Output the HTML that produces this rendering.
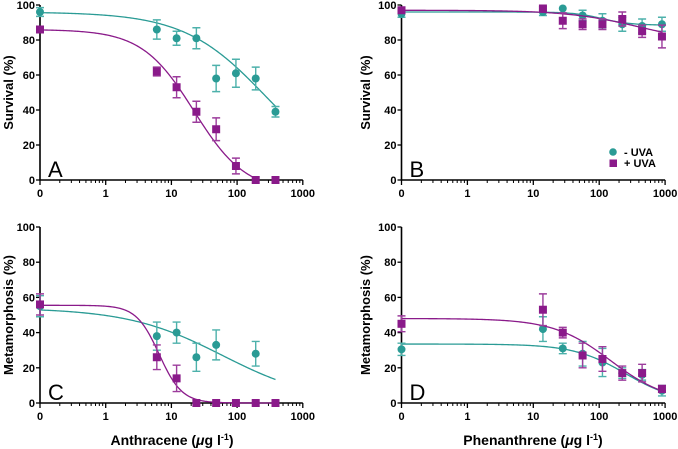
<!DOCTYPE html>
<html><head><meta charset="utf-8"><style>
html,body{margin:0;padding:0;background:#fff}
svg{display:block;font-family:"Liberation Sans",Arial,sans-serif}
</style></head><body>
<svg id="chart" width="678" height="449" viewBox="0 0 678 449"></svg>
<script>
// Doses (0 plotted at 0.1 position)
const antDoses = [0, 6, 12, 24, 48, 96, 192, 384];
const phenDoses = [0, 14, 28, 56, 112, 224, 448, 896];
// Panel A
const aTealX = [0, 6, 12, 24, 48, 96, 192, 384];
const aTealY = [96, 86, 81, 81, 58, 61, 58, 39];
const aTealE = [2.5, 5.5, 4, 6, 7.5, 8, 6.5, 3];
const aPurpX = [0, 6, 12, 24, 48, 96, 192, 384];
const aPurpY = [86, 62, 53, 39, 29, 8, 0, 0];
const aPurpE = [0, 2.5, 6, 6, 6.5, 4.5, 0, 0];
// Panel B
const bTealX = [0, 14, 28, 56, 112, 224, 448, 896];
const bTealY = [95, 96, 98, 94, 91, 89, 88, 89];
const bTealE = [2, 2, 0, 3, 4, 4, 4, 4];
const bPurpX = [0, 14, 28, 56, 112, 224, 448, 896];
const bPurpY = [97, 98, 91, 89, 89, 92, 85, 82];
const bPurpE = [1, 1, 4.5, 3, 3, 4, 3.5, 6.5];
// Panel C
const cTealX = [0, 6, 12, 24, 48, 192, 384];
const cTealY = [55, 38, 40, 26, 33, 28, 0];
const cTealE = [6, 8, 6, 8, 8.5, 7, 0];
const cPurpX = [0, 6, 12, 24, 48, 96, 192, 384];
const cPurpY = [56, 26, 14, 0, 0, 0, 0, 0];
const cPurpE = [6, 7, 7.5, 0, 0, 0, 0, 0];
// Panel D
const dTealX = [0, 14, 28, 56, 112, 224, 448, 896];
const dTealY = [30.5, 42, 31, 28, 23, 17, 16, 7];
const dTealE = [3.5, 7, 3, 7, 8, 3, 3, 3];
const dPurpX = [0, 14, 28, 56, 112, 224, 448, 896];
const dPurpY = [45, 53, 40, 27, 25, 17, 17, 8];
const dPurpE = [4.5, 9, 3, 7, 7, 4, 5, 2];
// Fit params [top, bottom, ec50, hill, xmax]
const aTealFit = [96, 0, 270, 0.7, 384];
const aPurpFit = [86, -7, 22, 1.1, 384];
const bTealFit = [96, 88.5, 110, 2, 896];
const bPurpFit = [97, 78, 400, 0.8, 896];
const cTealFit = [54, 0, 60, 0.6, 384];
const cPurpFit = [55.5, 0, 6.5, 2.5, 384];
const dTealFit = [33.5, 0, 250, 1.1, 896];
const dPurpFit = [48, 0, 150, 1, 896];
const yTicks = [0, 20, 40, 60, 80, 100];
const xTickLabels = ["0", "1", "10", "100", "1000"];
const xTickVals = [0.1, 1, 10, 100, 1000];

const TEAL = "#2a9b95", TEALE = "#4db1ab", PURP = "#8a1a8a", PURPE = "#9c3c9c";
const NS = "http://www.w3.org/2000/svg";
const svg = document.getElementById("chart");
function mk(tag, attrs, parent) {
  const e = document.createElementNS(NS, tag);
  for (const k in attrs) e.setAttribute(k, attrs[k]);
  (parent || svg).appendChild(e);
  return e;
}

function panel(cfg) {
  const g = mk("g", {});
  
  
  const x0 = cfg.x0, dec = cfg.dec, yb = cfg.yb, yt = cfg.yt;
  const sx = v => x0 + (Math.log10(Math.max(v, 0.1)) + 1) * dec;
  const sy = v => yb - (v / 100) * (yb - yt);
  const xEnd = sx(1000);
  const ax = mk("path", {d: `M${x0} ${yt} V${yb} H${xEnd}`, stroke: "#000", "stroke-width": 1.6, fill: "none"}, g);
  
  
  yTicks.forEach(t => {
    mk("line", {x1: x0 - 4, x2: x0, y1: sy(t), y2: sy(t), stroke: "#000", "stroke-width": 1.3}, g);
    const tx = mk("text", {x: x0 - 5, y: sy(t) + 4, "text-anchor": "end", "font-size": 11, "font-weight": "bold"}, g);
    tx.textContent = t;
    
    
  });
  xTickVals.forEach((v, i) => {
    mk("line", {x1: sx(v), x2: sx(v), y1: yb, y2: yb + 5, stroke: "#000", "stroke-width": 1.3}, g);
    const tx = mk("text", {x: sx(v), y: yb + 17, "text-anchor": "middle", "font-size": 11, "font-weight": "bold"}, g);
    tx.textContent = xTickLabels[i];
    
    
  });
  for (let d = 0.1; d < 1000; d *= 10) for (let m = 2; m <= 9; m++) {
    const v = d * m;
    mk("line", {x1: sx(v), x2: sx(v), y1: yb, y2: yb + 3, stroke: "#000", "stroke-width": 1}, g);
  }
  const yt2 = mk("text", {transform: `translate(${cfg.ytx},${(yb + yt) / 2}) rotate(-90)`, "text-anchor": "middle", "font-size": 13, "font-weight": "bold"}, g);
  yt2.textContent = cfg.ytitle;
  
  
  const lt = mk("text", {x: x0 + 8, y: yb - 3, "font-size": 22}, g);
  lt.textContent = cfg.letter;
  
  
  cfg.series.forEach(s => {
    const [top, bot, ec, h, xmax] = s.fit;
    let d = "";
    const lmin = -1, lmax = Math.log10(xmax);
    for (let i = 0; i <= 200; i++) {
      const lx = lmin + (lmax - lmin) * i / 200;
      const xv = Math.pow(10, lx);
      const yv = bot + (top - bot) / (1 + Math.pow(xv / ec, h));
      if (yv < 0) break;
      d += (i ? "L" : "M") + sx(xv).toFixed(2) + " " + sy(yv).toFixed(2);
    }
    const c = mk("path", {d, stroke: s.col, "stroke-width": 1.3, fill: "none"}, g);
    
    
    s.xs.forEach((xv, i) => {
      const px = sx(xv), py = sy(s.ys[i]), e = s.es[i];
      if (e > 0) {
        const eb = mk("path", {d: `M${px} ${sy(s.ys[i] + e)} V${sy(s.ys[i] - e)} M${px - 4} ${sy(s.ys[i] + e)} H${px + 4} M${px - 4} ${sy(s.ys[i] - e)} H${px + 4}`, stroke: s.ecol, "stroke-width": 1.4, fill: "none"}, g);
        
        
      }
      let m;
      if (s.shape === "c") m = mk("circle", {cx: px, cy: py, r: 4, fill: s.col}, g);
      else m = mk("rect", {x: px - 4, y: py - 4, width: 8, height: 8, fill: s.col}, g);
      
      
    });
  });
}

panel({name: "panel-a", x0: 40, dec: 65.7, yb: 180, yt: 5, ytx: 13, ytitle: "Survival (%)", letter: "A",
  series: [
    {nm: "minus-uva", xs: aTealX, ys: aTealY, es: aTealE, fit: aTealFit, col: TEAL, ecol: TEALE, shape: "c"},
    {nm: "plus-uva", xs: aPurpX, ys: aPurpY, es: aPurpE, fit: aPurpFit, col: PURP, ecol: PURPE, shape: "s"}]});
panel({name: "panel-b", x0: 401.5, dec: 65.9, yb: 180, yt: 5, ytx: 370, ytitle: "Survival (%)", letter: "B",
  series: [
    {nm: "minus-uva", xs: bTealX, ys: bTealY, es: bTealE, fit: bTealFit, col: TEAL, ecol: TEALE, shape: "c"},
    {nm: "plus-uva", xs: bPurpX, ys: bPurpY, es: bPurpE, fit: bPurpFit, col: PURP, ecol: PURPE, shape: "s"}]});
panel({name: "panel-c", x0: 40, dec: 65.7, yb: 403, yt: 227, ytx: 13, ytitle: "Metamorphosis (%)", letter: "C",
  series: [
    {nm: "minus-uva", xs: cTealX, ys: cTealY, es: cTealE, fit: cTealFit, col: TEAL, ecol: TEALE, shape: "c"},
    {nm: "plus-uva", xs: cPurpX, ys: cPurpY, es: cPurpE, fit: cPurpFit, col: PURP, ecol: PURPE, shape: "s"}]});
panel({name: "panel-d", x0: 401.5, dec: 65.9, yb: 403, yt: 227, ytx: 370, ytitle: "Metamorphosis (%)", letter: "D",
  series: [
    {nm: "minus-uva", xs: dTealX, ys: dTealY, es: dTealE, fit: dTealFit, col: TEAL, ecol: TEALE, shape: "c"},
    {nm: "plus-uva", xs: dPurpX, ys: dPurpY, es: dPurpE, fit: dPurpFit, col: PURP, ecol: PURPE, shape: "s"}]});

(function(){
  const lg = document.createElementNS(NS, "g");
  
  
  svg.appendChild(lg);
  lg.innerHTML = '<circle cx="613" cy="152" r="3.8" fill="#2a9b95"/><text x="624" y="156" font-size="11" font-weight="bold">-  UVA</text>' +
    '<rect x="609.5" y="159.5" width="7.5" height="7.5" fill="#8a1a8a"/><text x="624" y="167" font-size="11" font-weight="bold">+ UVA</text>';
  [["Anthracene", 172, "x-axis-title-anthracene"], ["Phenanthrene", 533, "x-axis-title-phenanthrene"]].forEach(([w, x, nm]) => {
    const t = document.createElementNS(NS, "text");
    t.setAttribute("x", x); t.setAttribute("y", 445);
    t.setAttribute("text-anchor", "middle"); t.setAttribute("font-size", 14); t.setAttribute("font-weight", "bold");
    t.innerHTML = w + ' (<tspan font-style="italic">μ</tspan>g l<tspan dy="-5" font-size="9">-1</tspan><tspan dy="5">)</tspan>';
    
    
    svg.appendChild(t);
  });
})();
</script>
</body></html>
